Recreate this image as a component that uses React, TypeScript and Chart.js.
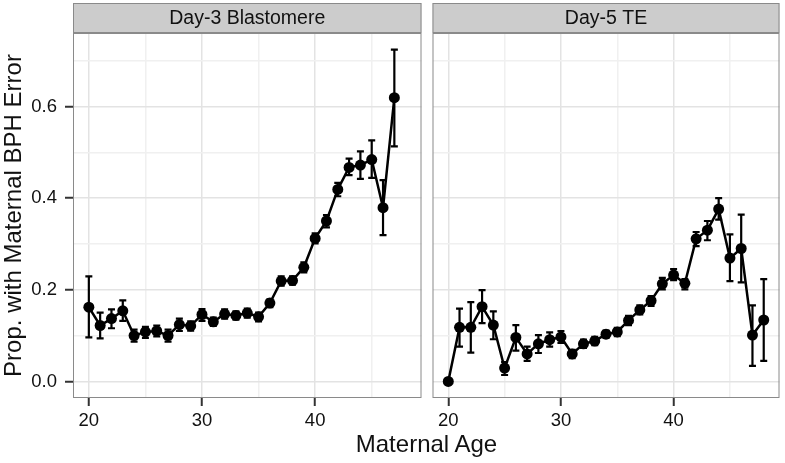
import React, { useEffect, useRef } from "react";
import { Chart, registerables } from "chart.js";

Chart.register(...registerables);

// ---------- data ----------
const panelTitles = ["Day-3 Blastomere", "Day-5 TE"];
const xAxisTitle = "Maternal Age";
const yAxisTitle = "Prop. with Maternal BPH Error";

const ages3 = [20, 21, 22, 23, 24, 25, 26, 27, 28, 29, 30, 31, 32, 33, 34, 35, 36, 37, 38, 39, 40, 41, 42, 43, 44, 45, 46, 47];
const prop3 = [0.162, 0.122, 0.137, 0.154, 0.100, 0.108, 0.110, 0.100, 0.124, 0.121, 0.146, 0.130, 0.147, 0.144, 0.149, 0.141, 0.171, 0.219, 0.220, 0.249, 0.312, 0.350, 0.419, 0.467, 0.472, 0.484, 0.379, 0.619];
const lo3 = [0.096, 0.094, 0.116, 0.132, 0.087, 0.095, 0.098, 0.087, 0.110, 0.111, 0.132, 0.121, 0.137, 0.135, 0.139, 0.131, 0.162, 0.209, 0.211, 0.238, 0.301, 0.336, 0.404, 0.450, 0.442, 0.444, 0.319, 0.513];
const hi3 = [0.229, 0.150, 0.157, 0.177, 0.113, 0.119, 0.122, 0.113, 0.137, 0.131, 0.158, 0.139, 0.157, 0.153, 0.159, 0.150, 0.179, 0.229, 0.229, 0.260, 0.323, 0.363, 0.433, 0.486, 0.502, 0.526, 0.439, 0.724];

const ages5 = [20, 21, 22, 23, 24, 25, 26, 27, 28, 29, 30, 31, 32, 33, 34, 35, 36, 37, 38, 39, 40, 41, 42, 43, 44, 45, 46, 47, 48];
const prop5 = [0.000, 0.118, 0.118, 0.163, 0.123, 0.029, 0.096, 0.060, 0.082, 0.091, 0.097, 0.060, 0.082, 0.088, 0.103, 0.108, 0.133, 0.156, 0.176, 0.213, 0.232, 0.214, 0.311, 0.330, 0.376, 0.269, 0.290, 0.101, 0.134];
const lo5 = [0.000, 0.076, 0.063, 0.127, 0.092, 0.014, 0.067, 0.045, 0.062, 0.076, 0.084, 0.051, 0.073, 0.079, 0.095, 0.099, 0.123, 0.146, 0.165, 0.201, 0.221, 0.201, 0.295, 0.308, 0.353, 0.219, 0.216, 0.034, 0.045];
const hi5 = [0.000, 0.159, 0.173, 0.199, 0.153, 0.042, 0.123, 0.076, 0.101, 0.107, 0.110, 0.069, 0.091, 0.097, 0.111, 0.117, 0.143, 0.166, 0.186, 0.226, 0.245, 0.223, 0.326, 0.350, 0.400, 0.321, 0.364, 0.166, 0.223];

const xMajor = [20, 30, 40];
const xMinor = [25, 35, 45];
const yMajor = [0, 0.2, 0.4, 0.6];
const yMinor = [0.1, 0.3, 0.5, 0.7];
const xLimits = [18.6, 49.4];
const yLimits = [-0.0362, 0.7602];

const FONT = "'Liberation Sans', Arial, Helvetica, sans-serif";

function makePanelPlugin(title: string, ages: number[], lo: number[], hi: number[]) {
  return {
    id: "panelDecor",
    beforeDatasetsDraw(chart: any) {
      const { ctx, chartArea, scales } = chart;
      ctx.save();
      ctx.beginPath();
      ctx.rect(chartArea.left, chartArea.top, chartArea.right - chartArea.left, chartArea.bottom - chartArea.top);
      ctx.clip();
      ctx.strokeStyle = "#000";
      ctx.lineWidth = 2.2;
      ctx.lineCap = "butt";
      for (let i = 0; i < ages.length; i++) {
        if (hi[i] - lo[i] <= 0) continue;
        const x = scales.x.getPixelForValue(ages[i]);
        const y1 = scales.y.getPixelForValue(lo[i]);
        const y2 = scales.y.getPixelForValue(hi[i]);
        const w = 3.5;
        ctx.beginPath();
        ctx.moveTo(x, y1);
        ctx.lineTo(x, y2);
        ctx.moveTo(x - w, y1);
        ctx.lineTo(x + w, y1);
        ctx.moveTo(x - w, y2);
        ctx.lineTo(x + w, y2);
        ctx.stroke();
      }
      ctx.restore();
    },
    afterDraw(chart: any) {
      const { ctx, chartArea } = chart;
      const { left, right, top, bottom } = chartArea;
      ctx.save();
      // panel border
      ctx.strokeStyle = "#8a8a8a";
      ctx.lineWidth = 1;
      ctx.strokeRect(left + 0.5, top + 0.5, right - left - 1, bottom - top - 1);
      // strip
      const sTop = 3;
      ctx.fillStyle = "#cccccc";
      ctx.fillRect(left, sTop, right - left, top - sTop);
      ctx.strokeStyle = "#8a8a8a";
      ctx.strokeRect(left + 0.5, sTop + 0.5, right - left - 1, top - sTop - 1);
      ctx.fillStyle = "#111";
      ctx.font = `19.5px ${FONT}`;
      ctx.textAlign = "center";
      ctx.textBaseline = "middle";
      ctx.fillText(title, (left + right) / 2, (sTop + top) / 2 + 1);
      ctx.restore();
    },
  };
}

function makeConfig(idx: number, ages: number[], vals: number[], lo: number[], hi: number[]) {
  const isLeft = idx === 0;
  const xTicks = [...xMajor, ...xMinor].sort((a, b) => a - b);
  const yTicks = [...yMajor, ...yMinor].sort((a, b) => a - b);
  return {
    type: "line" as const,
    data: {
      datasets: [
        {
          data: ages.map((a, i) => ({ x: a, y: vals[i] })),
          borderColor: "#000",
          borderWidth: 2.5,
          pointRadius: 5.5,
          pointBackgroundColor: "#000",
          pointBorderColor: "#000",
          pointBorderWidth: 0,
          tension: 0,
        },
      ],
    },
    options: {
      responsive: false,
      animation: false,
      devicePixelRatio: 1,
      layout: { padding: { top: 33, right: 5, left: isLeft ? 0 : 4, bottom: 0 } },
      plugins: { legend: { display: false }, tooltip: { enabled: false }, title: { display: false } },
      scales: {
        x: {
          type: "linear",
          min: xLimits[0],
          max: xLimits[1],
          afterBuildTicks: (s: any) => {
            s.ticks = xTicks.map((v) => ({ value: v }));
          },
          afterFit: (s: any) => {
            s.height = 65;
          },
          ticks: {
            autoSkip: false,
            maxRotation: 0,
            padding: 4,
            color: "#111",
            font: { size: 18.5, family: FONT },
            callback: (v: number) => (xMajor.includes(v) ? String(v) : ""),
          },
          grid: {
            color: (c: any) => (c.tick && xMajor.includes(c.tick.value) ? "#e3e3e3" : "#f0f0f0"),
            lineWidth: 1.5,
            drawTicks: true,
            tickLength: 8,
            tickWidth: 2,
            tickColor: (c: any) => (c.tick && xMajor.includes(c.tick.value) ? "#333" : "rgba(0,0,0,0)"),
          },
          border: { display: false },
        },
        y: {
          type: "linear",
          min: yLimits[0],
          max: yLimits[1],
          afterBuildTicks: (s: any) => {
            s.ticks = yTicks.map((v) => ({ value: v }));
          },
          afterFit: (s: any) => {
            s.width = isLeft ? 73 : 0;
          },
          title: {
            display: isLeft,
            text: yAxisTitle,
            color: "#111",
            font: { size: 24, family: FONT },
            padding: { top: 0, bottom: 0 },
          },
          ticks: {
            display: isLeft,
            autoSkip: false,
            padding: 8,
            color: "#111",
            font: { size: 18.5, family: FONT },
            callback: (v: number) => (yMajor.includes(v) ? v.toFixed(1) : ""),
          },
          grid: {
            color: (c: any) => (c.tick && yMajor.includes(c.tick.value) ? "#e3e3e3" : "#f0f0f0"),
            lineWidth: 1.5,
            drawTicks: isLeft,
            tickLength: 8,
            tickWidth: 2,
            tickColor: (c: any) => (c.tick && yMajor.includes(c.tick.value) ? "#333" : "rgba(0,0,0,0)"),
          },
          border: { display: false },
        },
      },
    },
    plugins: [makePanelPlugin(panelTitles[idx], ages, lo, hi)],
  };
}

export default function App() {
  const leftRef = useRef<HTMLCanvasElement>(null);
  const rightRef = useRef<HTMLCanvasElement>(null);

  useEffect(() => {
    document.body.style.margin = "0";
    Chart.defaults.font.family = FONT;
    const c1 = new Chart(leftRef.current as HTMLCanvasElement, makeConfig(0, ages3, prop3, lo3, hi3) as any);
    const c2 = new Chart(rightRef.current as HTMLCanvasElement, makeConfig(1, ages5, prop5, lo5, hi5) as any);
    return () => {
      c1.destroy();
      c2.destroy();
    };
  }, []);

  return (
    <div style={{ position: "fixed", left: 0, top: 0, width: 785, height: 463, background: "#fff", overflow: "hidden" }}>
      <canvas ref={leftRef} width={427} height={463} style={{ position: "absolute", left: 0, top: 0, width: 427, height: 463 }} />
      <canvas ref={rightRef} width={358} height={463} style={{ position: "absolute", left: 427, top: 0, width: 358, height: 463 }} />
      <div
        style={{
          position: "absolute",
          left: 73,
          width: 707,
          top: 430,
          height: 28,
          lineHeight: "28px",
          textAlign: "center",
          fontFamily: FONT,
          fontSize: 24,
          color: "#111",
        }}
      >
        {xAxisTitle}
      </div>
    </div>
  );
}
